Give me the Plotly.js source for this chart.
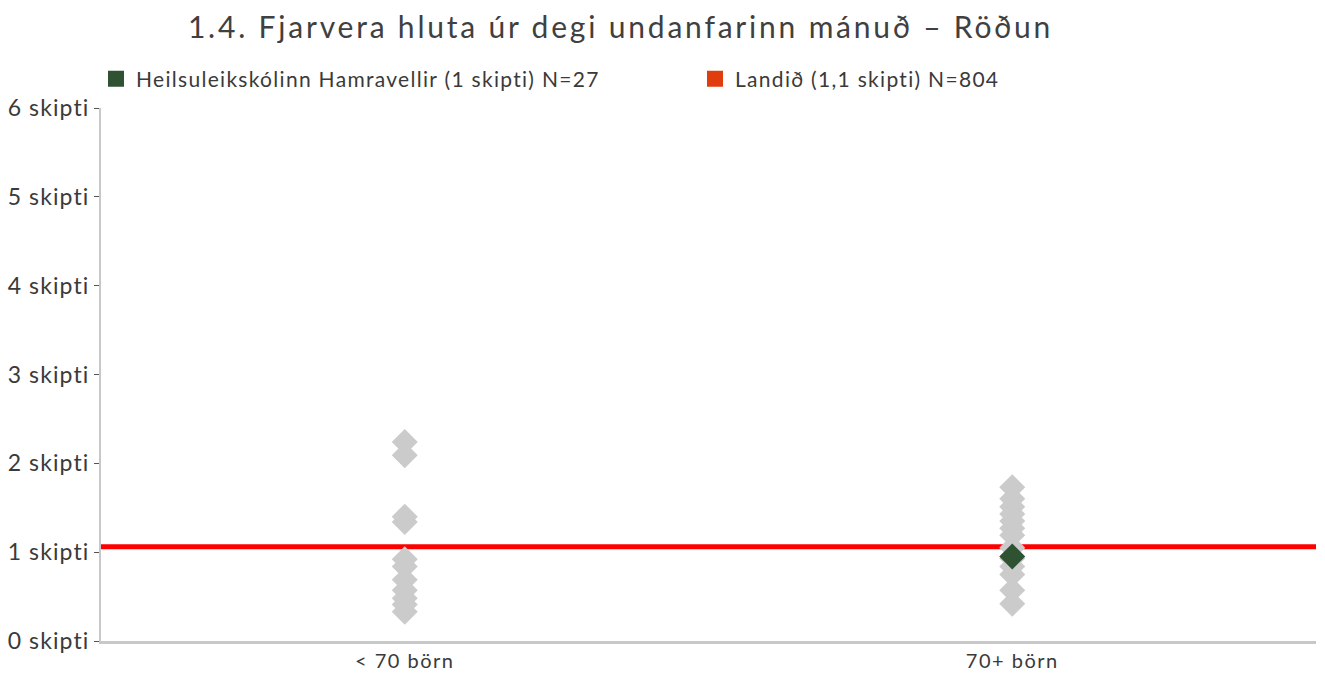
<!DOCTYPE html>
<html>
<head>
<meta charset="utf-8">
<script src="https://cdn.plot.ly/plotly-3.0.1.min.js"></script>
<style>
html,body{margin:0;padding:0;background:#fff;}
#chart{width:1325px;height:675px;}
#chart .gtitle{letter-spacing:2.8px;}
#chart .legendtext{letter-spacing:1.3px;}
#chart .ytick text{letter-spacing:1.1px;}
#chart .xtick text{letter-spacing:1.5px;}
</style>
</head>
<body>
<div id="chart"></div>
<script>
// ---- data ----
const categories = ['< 70 börn', '70+ börn'];
const smallSchools = [2.24, 2.09, 1.40, 1.34, 0.92, 0.84, 0.69, 0.57, 0.48, 0.41, 0.33];
const largeSchools = [1.73, 1.60, 1.51, 1.43, 1.35, 1.27, 1.19, 1.05, 0.93, 0.84, 0.75, 0.57, 0.42];
const schoolName = 'Heilsuleikskólinn Hamravellir (1 skipti) N=27';
const schoolCategory = ['70+ börn'];
const schoolValue = [0.95];
const nationalName = 'Landið (1,1 skipti) N=804';
const nationalValue = [1.06];
const yTickVals = [0, 1, 2, 3, 4, 5, 6];
const yTickText = ['0 skipti', '1 skipti', '2 skipti', '3 skipti', '4 skipti', '5 skipti', '6 skipti'];
const titleText = '1.4. Fjarvera hluta úr degi undanfarinn mánuð – Röðun';

const grey = '#cbcbcb';
const green = '#2f5233';
const legendRed = '#e03c0e';
const lineRed = '#ff0000';
const fontFam = 'Lato, "Open Sans", sans-serif';
const textCol = '#3a3a3a';

const greyX = smallSchools.map(() => categories[0]).concat(largeSchools.map(() => categories[1]));
const greyY = smallSchools.concat(largeSchools);

const traces = [
  {
    type: 'scatter', mode: 'markers', x: greyX, y: greyY, showlegend: false,
    marker: {symbol: 'diamond', size: 20, color: grey, line: {width: 0}},
    hoverinfo: 'y'
  },
  {
    type: 'scatter', mode: 'markers', x: schoolCategory, y: schoolValue, showlegend: false,
    marker: {symbol: 'diamond', size: 20, color: green, line: {width: 0}},
    name: schoolName
  },
  {
    type: 'scatter', mode: 'markers', x: [null], y: [null], name: schoolName,
    marker: {symbol: 'square', size: 16, color: green}
  },
  {
    type: 'scatter', mode: 'markers', x: [null], y: [null], name: nationalName,
    marker: {symbol: 'square', size: 16, color: legendRed}
  }
];

const layout = {
  width: 1325, height: 675,
  margin: {l: 101, r: 9, t: 108, b: 34},
  paper_bgcolor: '#ffffff', plot_bgcolor: '#ffffff',
  font: {family: fontFam, color: textCol, size: 21},
  title: {
    text: titleText, x: 620.5/1325, xref: 'container', xanchor: 'center',
    y: 1 - 27/675, yref: 'container', yanchor: 'middle',
    font: {family: fontFam, size: 30, color: '#404040'}
  },
  showlegend: true,
  legend: {
    orientation: 'h', x: 96/1325, xanchor: 'left', xref: 'container',
    y: 1 - 79/675, yref: 'container', yanchor: 'middle',
    font: {family: fontFam, size: 21, color: textCol},
    entrywidth: 554, entrywidthmode: 'pixels',
    itemclick: false, itemdoubleclick: false,
    traceorder: 'normal', bgcolor: 'rgba(0,0,0,0)'
  },
  xaxis: {
    type: 'category', categoryorder: 'array', categoryarray: categories,
    range: [-0.5, 1.5], showgrid: false, zeroline: false,
    showline: true, linecolor: '#c8c8c8', linewidth: 3,
    ticks: '', tickfont: {family: fontFam, size: 20, color: textCol},
    fixedrange: true
  },
  yaxis: {
    range: [0, 6], showgrid: false, zeroline: false,
    showline: true, linecolor: '#c8c8c8', linewidth: 2,
    ticks: 'outside', ticklen: 5, tickcolor: '#555', tickwidth: 1,
    tickvals: yTickVals, ticktext: yTickText,
    tickfont: {family: fontFam, size: 23, color: textCol},
    fixedrange: true
  },
  shapes: [
    {
      type: 'line', xref: 'paper', x0: 0, x1: 1, yref: 'y',
      y0: nationalValue[0], y1: nationalValue[0],
      line: {color: lineRed, width: 5}, layer: 'below'
    }
  ]
};

Plotly.newPlot('chart', traces, layout, {displayModeBar: false, staticPlot: true});
</script>
</body>
</html>
